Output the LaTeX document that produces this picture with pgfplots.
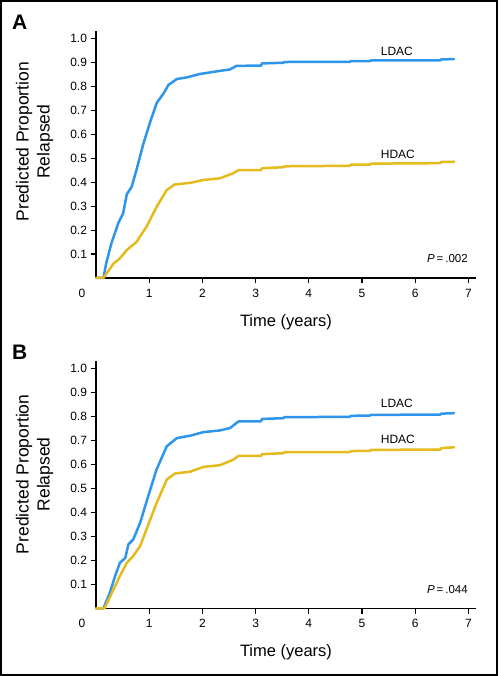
\documentclass[border=0pt]{standalone}
\usepackage{fontspec}
\setmainfont{Liberation Sans}
\usepackage{pgfplots}
\pgfplotsset{compat=1.18}
\definecolor{ldac}{RGB}{45,150,235}
\definecolor{hdac}{RGB}{228,186,28}

\pgfplotstableread{
t p
0 0
0.14 0
0.19 0.06
0.29 0.145
0.42 0.23
0.51 0.27
0.58 0.35
0.67 0.38
0.76 0.45
0.89 0.56
1.01 0.645
1.14 0.73
1.27 0.77
1.36 0.805
1.52 0.83
1.71 0.837
1.95 0.851
2.33 0.864
2.52 0.870
2.64 0.885
3.10 0.886
3.12 0.895
3.52 0.898
3.54 0.901
4.77 0.902
4.79 0.905
5.15 0.905
5.17 0.908
6.47 0.908
6.49 0.912
6.73 0.913
}\ALdac

\pgfplotstableread{
t p
0 0
0.14 0
0.33 0.06
0.45 0.082
0.58 0.117
0.76 0.15
0.95 0.214
1.14 0.297
1.33 0.367
1.48 0.39
1.77 0.397
2.02 0.409
2.33 0.416
2.58 0.437
2.68 0.45
3.10 0.45
3.12 0.458
3.52 0.462
3.54 0.466
4.77 0.468
4.79 0.473
5.15 0.473
5.17 0.477
6.47 0.479
6.49 0.484
6.73 0.485
}\AHdac

\pgfplotstableread{
t p
0 0
0.14 0
0.26 0.065
0.36 0.135
0.45 0.19
0.55 0.21
0.61 0.267
0.70 0.287
0.83 0.357
0.98 0.467
1.14 0.58
1.33 0.676
1.52 0.71
1.77 0.72
2.02 0.735
2.33 0.742
2.52 0.752
2.68 0.78
3.10 0.78
3.12 0.79
3.52 0.793
3.54 0.797
4.77 0.799
4.79 0.803
5.15 0.804
5.17 0.807
6.47 0.808
6.49 0.812
6.73 0.814
}\BLdac

\pgfplotstableread{
t p
0 0
0.16 0
0.33 0.079
0.45 0.135
0.58 0.19
0.70 0.218
0.83 0.26
0.95 0.33
1.14 0.44
1.33 0.537
1.48 0.562
1.77 0.57
2.02 0.59
2.33 0.597
2.58 0.62
2.68 0.636
3.10 0.636
3.12 0.643
3.52 0.647
3.54 0.651
4.77 0.652
4.79 0.656
5.15 0.657
5.17 0.661
6.47 0.662
6.49 0.668
6.73 0.672
}\BHdac

\newcommand{\lblfont}{\fontsize{12}{14}\selectfont}
\pgfplotsset{
 panel/.style={
  scale only axis, width=380.4pt, height=246.9pt,
  anchor=south west,
  xmin=0, xmax=7.15, ymin=0, ymax=1.03,
  axis lines=left, axis line style={-, line width=1.4pt},
  tick align=outside, major tick length=5.5pt,
  tick style={line width=1.1pt, black},
  xtick={1,2,3,4,5,6,7},
  ytick={0.1,0.2,0.3,0.4,0.5,0.6,0.7,0.8,0.9,1.0},
  yticklabels={0.1,0.2,0.3,0.4,0.5,0.6,0.7,0.8,0.9,1.0},
  /pgf/number format/assume math mode=true,
  tick label style={font=\lblfont},
  xticklabel style={yshift=-2pt},
  clip=false,
 },
 curve/.style={line width=2.5pt, line join=round, line cap=round},
}

\begin{document}
\begin{tikzpicture}
\useasboundingbox (0pt,0pt) rectangle (500pt,676pt);
\draw[line width=1.5pt] (1pt,1pt) rectangle (497pt,675pt);

% Panel A
\begin{axis}[panel, at={(96pt,398pt)}]
\addplot[curve, ldac] table[x=t,y=p] {\ALdac};
\addplot[curve, hdac] table[x=t,y=p] {\AHdac};
\node[anchor=base west, inner sep=0, font=\lblfont] at (axis cs:5.35,0.930) {LDAC};
\node[anchor=base west, inner sep=0, font=\lblfont] at (axis cs:5.35,0.499) {HDAC};
\node[anchor=base west, inner sep=0, font=\fontsize{11.5}{13}\selectfont] at (axis cs:6.22,0.063) {\textit{P}\,=\,.002};
\end{axis}

% Panel B
\begin{axis}[panel, at={(96pt,67.7pt)}]
\addplot[curve, ldac] table[x=t,y=p] {\BLdac};
\addplot[curve, hdac] table[x=t,y=p] {\BHdac};
\node[anchor=base west, inner sep=0, font=\lblfont] at (axis cs:5.35,0.836) {LDAC};
\node[anchor=base west, inner sep=0, font=\lblfont] at (axis cs:5.35,0.686) {HDAC};
\node[anchor=base west, inner sep=0, font=\fontsize{11.5}{13}\selectfont] at (axis cs:6.22,0.063) {\textit{P}\,=\,.044};
\end{axis}

% outer labels
\node[anchor=base west, inner sep=0, font=\bfseries\fontsize{21}{24}\selectfont] at (12pt,646pt) {A};
\node[anchor=base west, inner sep=0, font=\bfseries\fontsize{21}{24}\selectfont] at (12pt,316pt) {B};

\node[font=\lblfont] at (82pt,383pt) {0};
\node[font=\lblfont] at (82pt,53pt) {0};

\node[rotate=90, align=center, font=\fontsize{17.5}{21}\selectfont] at (34.5pt,534.3pt) {Predicted Proportion\\Relapsed};
\node[rotate=90, align=center, font=\fontsize{17.5}{21}\selectfont] at (34.5pt,201.7pt) {Predicted Proportion\\Relapsed};

\node[anchor=base, font=\fontsize{16.5}{20}\selectfont] at (286pt,349.5pt) {Time (years)};
\node[anchor=base, font=\fontsize{16.5}{20}\selectfont] at (286pt,19pt) {Time (years)};
\end{tikzpicture}
\end{document}
